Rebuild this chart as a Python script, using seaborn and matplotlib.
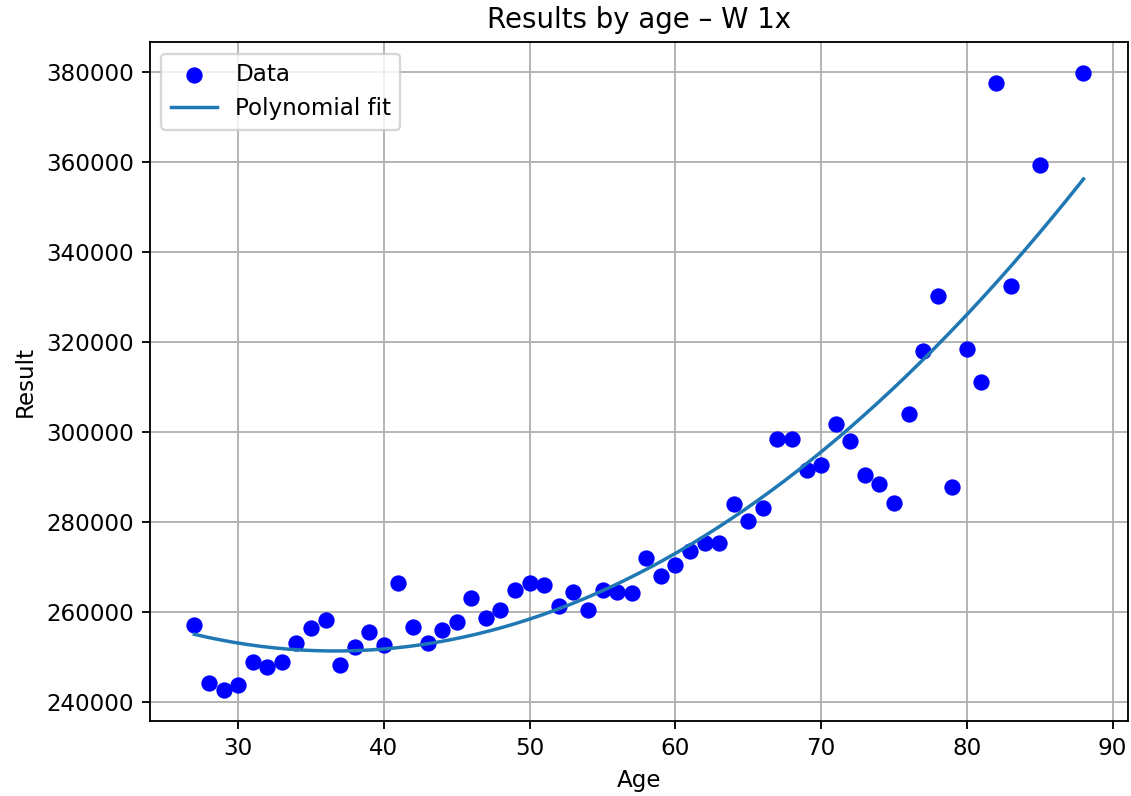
import numpy as np
import pandas as pd
import matplotlib
matplotlib.use("Agg")
import matplotlib.pyplot as plt
import seaborn as sns

# Ages and results
ages = [27, 28, 29, 30, 31, 32, 33, 34, 35, 36, 37, 38, 39, 40, 41, 42, 43, 44, 45, 46,
        47, 48, 49, 50, 51, 52, 53, 54, 55, 56, 57, 58, 59, 60, 61, 62, 63, 64, 65, 66,
        67, 68, 69, 70, 71, 72, 73, 74, 75, 76, 77, 78, 79, 80, 81, 82, 83, 85, 88]
results = [257100, 244100, 242600, 243700, 248900, 247700, 248900, 253000, 256400, 258200,
           248200, 252300, 255600, 252600, 266400, 256700, 253000, 256000, 257800, 263100,
           258600, 260400, 264900, 266400, 266000, 261200, 264500, 260400, 264900, 264500,
           264200, 272000, 267900, 270500, 273500, 275300, 275300, 283900, 280100, 283100,
           298500, 298500, 291500, 292600, 301700, 298100, 290400, 288500, 284100, 304100,
           318100, 330300, 287800, 318500, 311100, 377600, 332500, 359400, 379800]

df = pd.DataFrame({"Age": ages, "Result": results})

# Second order polynomial fit
coefs = np.polyfit(df["Age"], df["Result"], 2)
fit_x = np.linspace(df["Age"].min(), df["Age"].max(), 200)
fit_df = pd.DataFrame({"Age": fit_x, "Result": np.polyval(coefs, fit_x)})

dpi = 166
fig = plt.figure(figsize=(1131 / dpi, 796 / dpi), dpi=dpi)
ax = fig.add_axes([0.1326, 0.0942, 0.8647, 0.8528])

sns.scatterplot(data=df, x="Age", y="Result", color="blue", s=50, linewidth=0,
                label="Data", ax=ax, zorder=3)
sns.lineplot(data=fit_df, x="Age", y="Result", color="#1f77b4", label="Polynomial fit",
             ax=ax, zorder=4)

ax.set_title("Results by age – W 1x")
ax.set_xlabel("Age")
ax.set_ylabel("Result")
ax.grid(True)
ax.set_axisbelow(True)
ax.legend(loc="upper left")

fig.savefig("out.png", dpi=dpi)
